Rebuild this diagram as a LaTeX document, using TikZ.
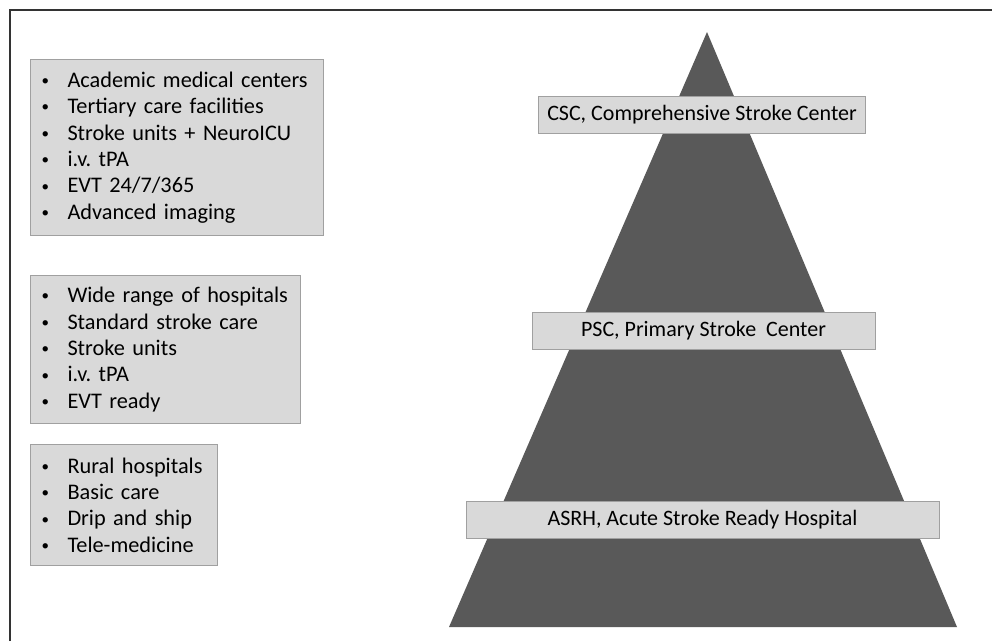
\documentclass[tikz,border=0pt]{standalone}
\usepackage{fontspec}
\setmainfont{Carlito}
\usepackage{tikz}
\usetikzlibrary{positioning}
\definecolor{boxgray}{RGB}{217,217,217}
\definecolor{boxline}{RGB}{160,160,160}
\definecolor{pyramidgray}{RGB}{89,89,89}
\newcommand{\bul}{\makebox[27pt][l]{\hspace{1pt}\raisebox{1.8pt}{\fontsize{15}{15}\selectfont\textbullet}}}
\frenchspacing

\begin{document}
\begin{tikzpicture}[
      x=1pt, y=-1pt,
      listbox/.style={rectangle, draw=boxline, fill=boxgray, line width=1pt,
        anchor=north west, align=left, inner xsep=10pt, inner ysep=0pt,
        font=\fontsize{22.3}{26.4}\selectfont},
      level/.style={rectangle, draw=boxline, fill=boxgray, line width=1pt,
        minimum height=37pt, inner sep=0pt, font=\fontsize{22}{26}\selectfont},
  ]
      \useasboundingbox (0,0) rectangle (992,641);

      % Rahmen
      \draw[line width=1.5pt, black!80] (10,641) -- (10,10) -- (992,10);

      % Pyramide
      \coordinate (apex) at (707,32);
      \coordinate (baseR) at (957,627);
      \coordinate (baseL) at (449,627);
      \fill[pyramidgray] (apex) -- (baseR) -- (baseL) -- cycle;

      % Ebenen
      \node[level, minimum width=327pt] (csc) at (702,115) {CSC, Comprehensive Stroke Center};
      \node[level, minimum width=343pt] (psc) at (703.5,330.5) {PSC, Primary Stroke\ \ Center};
      \node[level, minimum width=473pt] (asrh) at (702.5,520) {ASRH, Acute Stroke Ready Hospital};

      % Listen
      \node[listbox, text width=273pt, minimum height=176pt] (csclist) at (30,59)
        {\bul Academic medical centers\\ \bul Tertiary care facilities\\
         \bul Stroke units + NeuroICU\\ \bul i.v. tPA\\
         \bul EVT 24/7/365\\ \bul Advanced imaging};
      \node[listbox, text width=250pt, minimum height=148pt] (psclist) at (30,275)
        {\bul Wide range of hospitals\\ \bul Standard stroke care\\
         \bul Stroke units\\ \bul i.v. tPA\\ \bul EVT ready};
      \node[listbox, text width=167pt, minimum height=121pt] (asrhlist) at (30,444)
        {\bul Rural hospitals\\ \bul Basic care\\
         \bul Drip and ship\\ \bul Tele-medicine};

  \end{tikzpicture}
\end{document}
